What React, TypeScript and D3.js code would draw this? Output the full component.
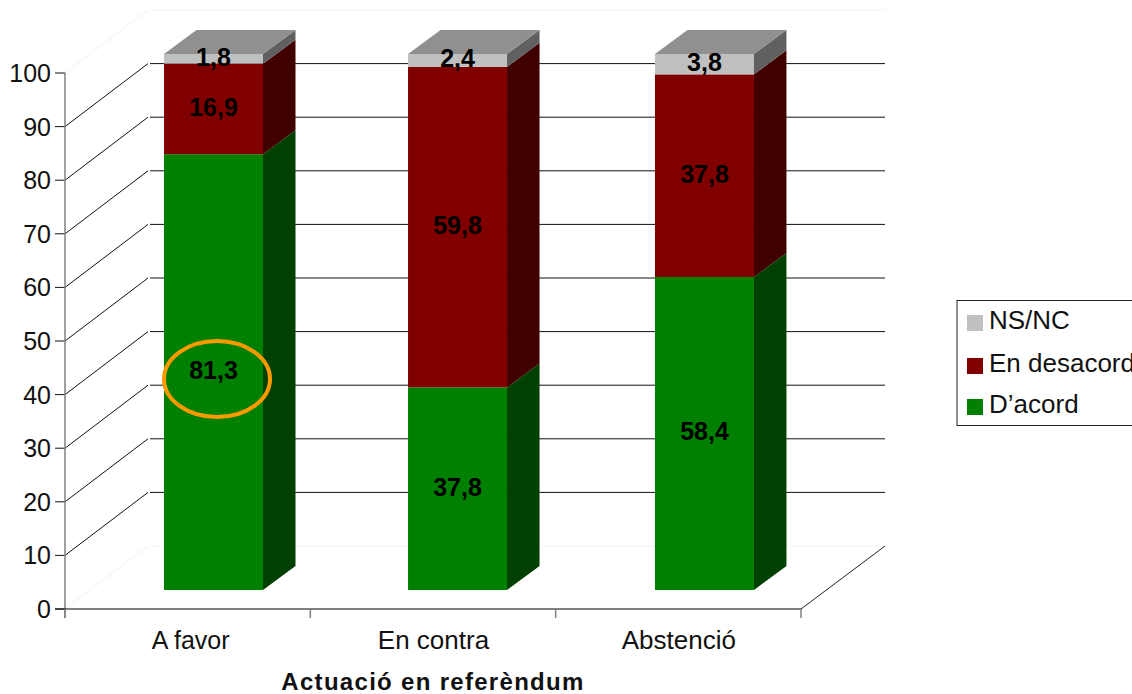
import React from "react";
import * as d3 from "d3";

const categories = ["A favor", "En contra", "Abstenció"];
const seriesNames = ["D’acord", "En desacord", "NS/NC"];
const dacord = [81.3, 37.8, 58.4];
const desacord = [16.9, 59.8, 37.8];
const nsnc = [1.8, 2.4, 3.8];
const labelsDacord = ["81,3", "37,8", "58,4"];
const labelsDesacord = ["16,9", "59,8", "37,8"];
const labelsNsnc = ["1,8", "2,4", "3,8"];
const yTicks = [0, 10, 20, 30, 40, 50, 60, 70, 80, 90, 100];
const xTitle = "Actuació en referèndum";
const legendOrder = ["NS/NC", "En desacord", "D’acord"];

const front = ["#008000", "#800000", "#c0c0c0"];
const side = ["#004000", "#400000", "#606060"];
const topFace = "#909090";
const FONT = "'Liberation Sans', Arial, sans-serif";

const W = 1132, H = 694;
const y = d3.scaleLinear().domain([0, 100]).range([609, 73]);
const x = d3.scaleBand<string>().domain(categories).range([65, 801]);
const DEPTH_X = 83, DEPTH_Y = 63;
const BAR_W = 99, BAR_OFF = 99, BAR_LIFT = 19, SIDE_X = 32.5, SIDE_Y = 24;
const barNudge = [0, -1.3, 0.3];
const labelNudge = [3, 0.5, 0.5];
const poly = d3.line();

export default function App() {
  const rows = categories.map((c, i) => ({ c, vals: [dacord[i], desacord[i], nsnc[i]], labels: [labelsDacord[i], labelsDesacord[i], labelsNsnc[i]] }));
  const stacked = d3.stack<any, number>().keys([0, 1, 2]).value((d, k) => d.vals[k])(rows as any);
  const color = d3.scaleOrdinal<string, string>().domain(seriesNames).range(front);
  const xEdges = [...categories.map((c) => x(c)!), 801];
  return (
    <svg width={W} height={H} viewBox={`0 0 ${W} ${H}`} style={{ position: "absolute", left: 0, top: 0, background: "#fff" }} fontFamily={FONT}>
      {yTicks.map((t) => {
        const faint = t === 0 || t === 100;
        const yy = y(t);
        return (
          <g key={t}>
            <line x1={65} y1={yy} x2={65 + DEPTH_X} y2={yy - DEPTH_Y} stroke={faint ? "#ececec" : "#111"} strokeWidth={1} strokeDasharray={faint ? "2 1" : undefined} />
            <line x1={150} y1={yy - DEPTH_Y} x2={885} y2={yy - DEPTH_Y} stroke={faint ? "#f4f4f4" : "#111"} strokeWidth={1} />
            <line x1={55} y1={yy} x2={65} y2={yy} stroke="#111" strokeWidth={1} />
            <text x={51} y={yy + 9} textAnchor="end" fontSize={25} fill="#111">{t}</text>
          </g>
        );
      })}
      <line x1={65} y1={y(100)} x2={65} y2={618} stroke="#808080" strokeWidth={1.5} />
      <line x1={55} y1={y(0)} x2={801} y2={y(0)} stroke="#000" strokeWidth={1} />
      <line x1={801} y1={y(0)} x2={885} y2={y(0) - DEPTH_Y} stroke="#222" strokeWidth={1} />
      {xEdges.map((e) => (
        <line key={e} x1={e} y1={y(0)} x2={e} y2={618} stroke="#808080" strokeWidth={1.5} />
      ))}
      {categories.map((c, i) => (
        <text key={c} x={x(c)! + x.bandwidth() / 2 + labelNudge[i]} y={649} textAnchor="middle" fontSize={i === 0 ? 25 : 26} fill="#111">{c}</text>
      ))}
      <text x={433} y={690} textAnchor="middle" fontSize={24} fontWeight="bold" letterSpacing={1.3} fill="#111">{xTitle}</text>

      {categories.map((c, i) => {
        const x0 = x(c)! + BAR_OFF + barNudge[i];
        const x1 = x0 + BAR_W;
        const top = y(stacked[2][i][1]) - BAR_LIFT;
        return (
          <g key={c}>
            {stacked.map((s, k) => {
              const yb = y(s[i][0]) - BAR_LIFT;
              const yt = y(s[i][1]) - BAR_LIFT;
              return (
                <g key={k}>
                  <rect x={x0} y={yt} width={BAR_W} height={yb - yt} fill={color(seriesNames[k])} />
                  <path d={poly([[x1, yb], [x1 + SIDE_X, yb - SIDE_Y], [x1 + SIDE_X, yt - SIDE_Y], [x1, yt]])! + "Z"} fill={side[k]} />
                </g>
              );
            })}
            <path d={poly([[x0, top], [x1, top], [x1 + SIDE_X, top - SIDE_Y], [x0 + SIDE_X, top - SIDE_Y]])! + "Z"} fill={topFace} />
            {stacked.map((s, k) => (
              <text key={k} x={(x0 + x1) / 2} y={y((s[i][0] + s[i][1]) / 2) - BAR_LIFT + 7} textAnchor="middle" fontSize={25} fontWeight="bold" fill="#000">
                {rows[i].labels[k]}
              </text>
            ))}
          </g>
        );
      })}

      <ellipse cx={217} cy={379} rx={53} ry={38} fill="none" stroke="#ff9900" strokeWidth={4} />

      <rect x={957} y={300.5} width={190} height={125} fill="#fff" stroke="#222" strokeWidth={1} />
      {legendOrder.map((n, i) => {
        const ys = [315, 358, 399][i];
        return (
          <g key={n}>
            <rect x={967} y={ys} width={16} height={16} fill={color(n)} />
            <text x={989} y={ys + 14} fontSize={26} fill="#111">{n}</text>
          </g>
        );
      })}
    </svg>
  );
}
